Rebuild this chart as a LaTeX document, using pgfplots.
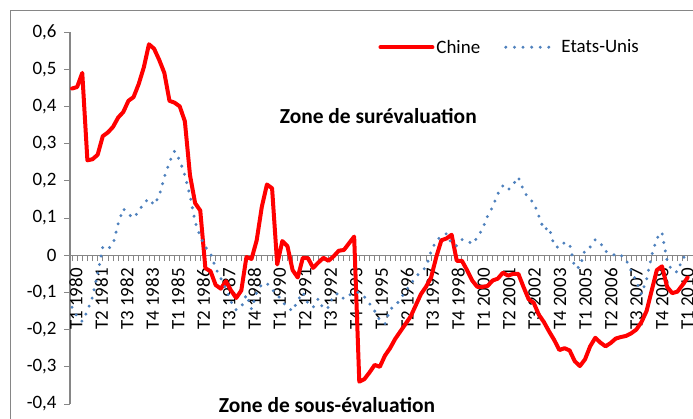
\documentclass[border=0pt]{standalone}
\usepackage{pgfplots}
\usepackage{pgfplotstable}
\usepackage{fontspec}
\setmainfont{Carlito}
\pgfplotsset{compat=1.18}

\definecolor{chinered}{RGB}{255,0,0}
\definecolor{usblue}{RGB}{79,129,189}
\definecolor{axisgray}{RGB}{134,134,134}

\newcommand\chartfont{\fontsize{19}{22}\selectfont}
\newcommand\zonefont{\fontsize{21.5}{24}\selectfont\bfseries}

\pgfplotsset{
  linelegend/.style={legend image code/.code={\draw[##1] (0bp,0bp) -- (52bp,0bp);}},
  dotlegend/.style={legend image code/.code={\draw[##1] (0bp,0bp) -- (44bp,0bp); \path (52bp,0bp);}},
}

% quarterly index (0 = T1 1980) and value
\pgfplotstableread{
q v
0 0.448
1 0.452
2 0.49
3 0.255
4 0.258
5 0.27
6 0.32
7 0.33
8 0.345
9 0.37
10 0.385
11 0.415
12 0.425
13 0.46
14 0.505
15 0.567
16 0.555
17 0.525
18 0.49
19 0.415
20 0.41
21 0.40
22 0.36
23 0.215
24 0.14
25 0.12
26 -0.035
27 -0.043
28 -0.08
29 -0.09
30 -0.07
31 -0.095
32 -0.115
33 -0.095
34 -0.005
35 -0.01
36 0.04
37 0.13
38 0.19
39 0.18
40 -0.025
41 0.038
42 0.024
43 -0.04
44 -0.06
45 -0.007
46 -0.008
47 -0.034
48 -0.02
49 -0.007
50 -0.015
51 -0.003
52 0.012
53 0.014
54 0.032
55 0.05
56 -0.34
57 -0.333
58 -0.315
59 -0.295
60 -0.30
61 -0.27
62 -0.25
63 -0.225
64 -0.205
65 -0.185
66 -0.165
67 -0.135
68 -0.105
69 -0.085
70 -0.06
71 -0.005
72 0.04
73 0.045
74 0.055
75 -0.015
76 -0.015
77 -0.04
78 -0.068
79 -0.085
80 -0.085
81 -0.083
82 -0.068
83 -0.063
84 -0.047
85 -0.055
86 -0.05
87 -0.05
88 -0.085
89 -0.118
90 -0.128
91 -0.16
92 -0.18
93 -0.205
94 -0.228
95 -0.255
96 -0.25
97 -0.256
98 -0.285
99 -0.298
100 -0.28
101 -0.245
102 -0.222
103 -0.235
104 -0.245
105 -0.236
106 -0.224
107 -0.22
108 -0.217
109 -0.21
110 -0.2
111 -0.18
112 -0.15
113 -0.095
114 -0.04
115 -0.03
116 -0.085
117 -0.102
118 -0.098
119 -0.08
120 -0.06
}\chine

\pgfplotstableread{
q v
0 -0.14
1 -0.165
2 -0.178
3 -0.15
4 -0.112
5 -0.05
6 0.022
7 0.016
8 0.03
9 0.085
10 0.125
11 0.11
12 0.1
13 0.118
14 0.14
15 0.152
16 0.135
17 0.16
18 0.21
19 0.25
20 0.28
21 0.255
22 0.215
23 0.16
24 0.09
25 0.05
26 0.022
27 0.005
28 -0.035
29 -0.062
30 -0.09
31 -0.125
32 -0.147
33 -0.14
34 -0.106
35 -0.145
36 -0.1
37 -0.078
38 -0.075
39 -0.093
40 -0.105
41 -0.125
42 -0.14
43 -0.15
44 -0.122
45 -0.1
46 -0.13
47 -0.14
48 -0.117
49 -0.145
50 -0.14
51 -0.108
52 -0.102
53 -0.118
54 -0.108
55 -0.1
56 -0.1
57 -0.112
58 -0.13
59 -0.15
60 -0.175
61 -0.185
62 -0.145
63 -0.137
64 -0.118
65 -0.097
66 -0.078
67 -0.058
68 -0.045
69 -0.032
70 0.01
71 0.04
72 0.05
73 0.058
74 0.03
75 0.025
76 0.042
77 0.04
78 0.03
79 0.047
80 0.07
81 0.105
82 0.13
83 0.165
84 0.187
85 0.175
86 0.19
87 0.21
88 0.175
89 0.152
90 0.142
91 0.105
92 0.068
93 0.075
94 0.025
95 0.02
96 0.034
97 0.03
98 -0.035
99 -0.032
100 0.015
101 0.022
102 0.042
103 0.033
104 0.01
105 0.008
106 -0.003
107 0
108 -0.012
109 -0.042
110 -0.07
111 -0.105
112 -0.065
113 0.0
114 0.045
115 0.062
116 -0.015
117 -0.043
118 -0.045
119 -0.01
120 0.005
}\etatsunis

\begin{document}
\begin{tikzpicture}
\useasboundingbox (-70bp,-15bp) rectangle (623bp,404bp);
\begin{axis}[
    scale only axis,
    width=623bp, height=372bp,
    xmin=-0.39, xmax=121.05,
    ymin=-0.4, ymax=0.6,
    axis x line*=middle,
    axis y line*=left,
    axis line style={axisgray, line width=1.3bp},
    tick style={axisgray, line width=0.8bp},
    major tick length=6bp,
    minor tick length=6bp,
    tick align=outside,
    xtick={0,5,...,120},
    minor x tick num=4,
    xticklabels={T1 1980,T2 1981,T3 1982,T4 1983,T1 1985,T2 1986,T3 1987,T4 1988,
      T1 1990,T2 1991,T3 1992,T4 1993,T1 1995,T2 1996,T3 1997,T4 1998,
      T1 2000,T2 2001,T3 2002,T4 2003,T1 2005,T2 2006,T3 2007,T4 2008,T1 2010},
    xticklabel style={font=\chartfont, xshift={4bp-0.17bp*\ticknum}, yshift=-7bp, rotate=90, anchor=east, inner sep=0pt},
    ytick={-0.4,-0.3,...,0.6},
    yticklabels={{-0,4},{-0,3},{-0,2},{-0,1},0,{0,1},{0,2},{0,3},{0,4},{0,5},{0,6}},
    yticklabel style={font=\chartfont, anchor=east, xshift=-4bp},
    clip=false,
    legend style={draw=none, fill=none, font=\chartfont,
      at={(0.49,0.99)}, anchor=north west, legend columns=-1,
      /tikz/every even column/.append style={column sep=22bp}},
]
\addplot[chinered, line width=4bp, line join=round, line cap=round, linelegend] table[x=q, y=v] {\chine};
\addlegendentry{Chine}
\addplot[usblue, line width=3.3bp, line cap=round, dash pattern=on 0bp off 8.6bp, dotlegend] table[x=q, y=v] {\etatsunis};
\addlegendentry{Etats-Unis}

\node[font=\zonefont] at (axis cs:59.7,0.374) {Zone de surévaluation};
\node[font=\zonefont] at (axis cs:49.7,-0.403) {Zone de sous-évaluation};
\end{axis}
\draw[axisgray, line width=1bp] (-59bp,-20bp) -- (-59bp,393bp) -- (630bp,393bp);
\end{tikzpicture}
\end{document}
